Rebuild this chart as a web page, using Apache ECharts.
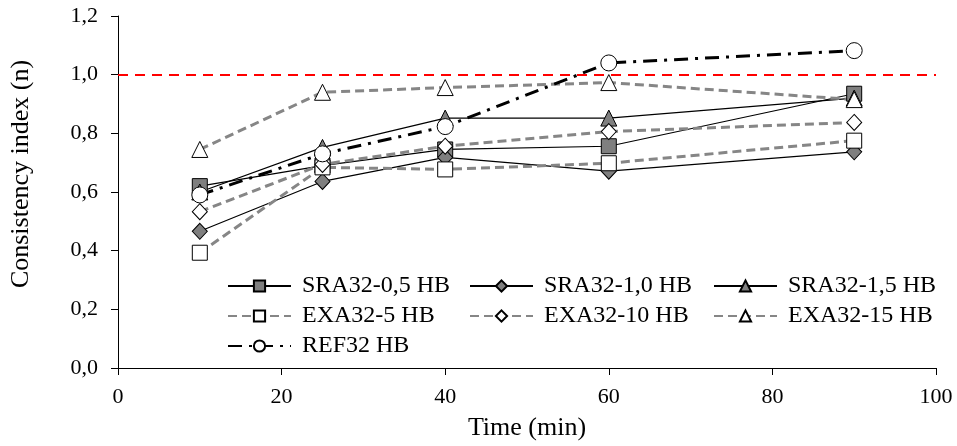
<!DOCTYPE html>
<html>
<head>
<meta charset="utf-8">
<script src="https://cdn.jsdelivr.net/npm/echarts@6/dist/echarts.min.js"></script>
<style>
html,body{margin:0;padding:0;background:#fff;}
#chart{width:957px;height:446px;}
</style>
</head>
<body>
<div id="chart"></div>
<script>
var times = [10, 25, 40, 60, 90];
var sra05 = [0.62, 0.69, 0.745, 0.756, 0.935];
var sra10 = [0.466, 0.636, 0.718, 0.671, 0.737];
var sra15 = [0.60, 0.752, 0.852, 0.852, 0.92];
var exa5  = [0.393, 0.684, 0.677, 0.698, 0.775];
var exa10 = [0.533, 0.694, 0.756, 0.806, 0.837];
var exa15 = [0.745, 0.94, 0.956, 0.973, 0.915];
var ref32 = [0.59, 0.73, 0.823, 1.04, 1.082];
var yTicks = ['0,0','0,2','0,4','0,6','0,8','1,0','1,2'];
var refLine = 1.0;

var FONT = 'Liberation Serif';
function pts(arr){ return arr.map(function(v,i){ return [times[i], v]; }); }

var solid = {color:'#000', width:1.2, type:'solid'};
var dashed = {color:'#868686', width:3, type:[9,5]};
var dashdot = {color:'#000', width:3, type:[14,7,3,7]};

function mk(name, data, sym, size, fill, ls, extra){
  var s = {
    name: name, type: 'line', data: pts(data),
    symbol: sym, symbolSize: size,
    showAllSymbol: true,
    lineStyle: ls,
    itemStyle: {color: fill, borderColor: '#000', borderWidth: 1},
    emphasis: {disabled: true},
    animation: false
  };
  if (extra) for (var k in extra) s[k] = extra[k];
  return s;
}

var series = [
  mk('SRA32-0,5 HB', sra05, 'rect', 15, '#7f7f7f', solid),
  mk('SRA32-1,0 HB', sra10, 'diamond', [15,16], '#7f7f7f', solid),
  mk('SRA32-1,5 HB', sra15, 'triangle', [16,16], '#7f7f7f', solid),
  mk('EXA32-5 HB', exa5, 'rect', 15, '#fff', dashed),
  mk('EXA32-10 HB', exa10, 'diamond', [15,16], '#fff', dashed),
  mk('EXA32-15 HB', exa15, 'triangle', [16,16], '#fff', dashed),
  mk('REF32 HB', ref32, 'circle', 16, '#fff', dashdot, {
    markLine: {
      silent: true, symbol: ['none','none'], label: {show:false},
      lineStyle: {color:'#ff0000', width:2, type:[10,7]},
      data: [{yAxis: refLine}]
    }
  })
];

function legend(names, left){
  return {
    orient: 'vertical', left: left, top: 274, padding: 0,
    itemWidth: 63, itemHeight: 14, itemGap: 6,
    data: names,
    selectedMode: false,
    textStyle: {fontFamily: FONT, fontSize: 24, lineHeight: 22, color: '#000', padding: [0,0,0,6]}
  };
}

var chart = echarts.init(document.getElementById('chart'), null, {renderer:'canvas'});
chart.setOption({
  backgroundColor: '#fff',
  animation: false,
  grid: {left: 110, right: 21, top: 16, bottom: 77, containLabel: false},
  legend: [
    legend(['SRA32-0,5 HB','EXA32-5 HB','REF32 HB'], 227),
    legend(['SRA32-1,0 HB','EXA32-10 HB'], 469),
    legend(['SRA32-1,5 HB','EXA32-15 HB'], 713)
  ],
  xAxis: {
    type: 'value', min: 0, max: 100, interval: 20,
    name: 'Time (min)', nameLocation: 'middle', nameGap: 47,
    nameTextStyle: {fontFamily: FONT, fontSize: 26, color: '#000'},
    axisLine: {show: true, onZero: false, lineStyle: {color:'#000', width:1}},
    axisTick: {show: true, length: 7, lineStyle: {color:'#000'}},
    axisLabel: {fontFamily: FONT, fontSize: 22, color: '#000', margin: 18},
    splitLine: {show: false}
  },
  yAxis: {
    type: 'value', min: 0, max: 1.2, interval: 0.2,
    name: 'Consistency index (n)', nameLocation: 'middle', nameGap: 84, nameRotate: 90,
    nameTextStyle: {fontFamily: FONT, fontSize: 26, color: '#000', padding: [0,0,0,36]},
    axisLine: {show: true, lineStyle: {color:'#000', width:1}},
    axisTick: {show: true, length: 7, lineStyle: {color:'#000'}},
    axisLabel: {fontFamily: FONT, fontSize: 22, color: '#000', margin: 20,
      formatter: function(v){ var i = Math.round(v/0.2); return yTicks[i]; }},
    splitLine: {show: false}
  },
  series: series
});
</script>
</body>
</html>
